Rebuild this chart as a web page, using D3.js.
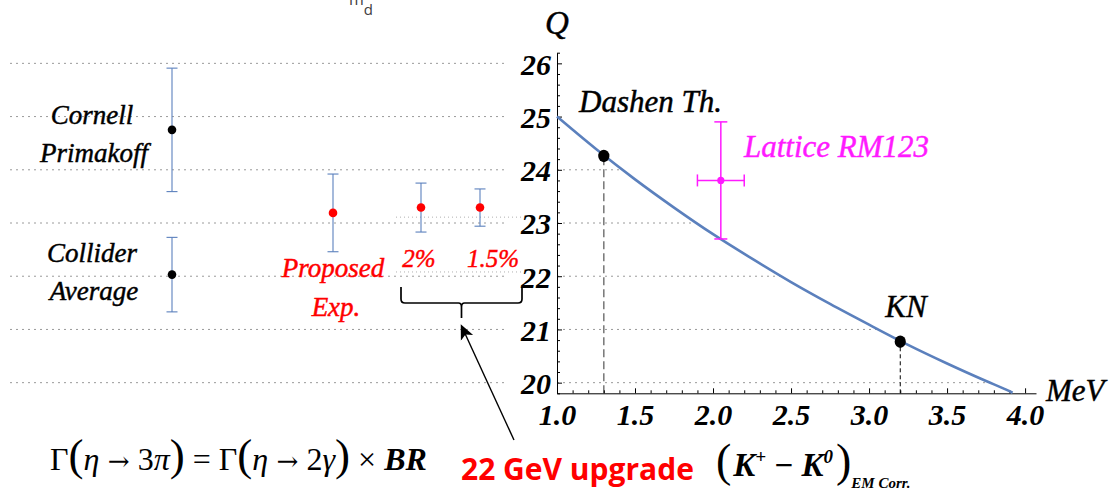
<!DOCTYPE html>
<html><head><meta charset="utf-8">
<script src="https://cdn.jsdelivr.net/npm/d3@7"></script>
<style>
html,body{margin:0;padding:0;background:#fff;}
svg{display:block;}
</style></head><body>
<svg id="chart" width="1116" height="493"></svg>
<script>
// Q as a function of the electromagnetic correction to the kaon mass splitting
const emCorr = [1.0, 1.25, 1.5, 1.75, 2.0, 2.25, 2.5, 2.75, 3.0, 3.25, 3.5, 3.75, 3.9, 3.92];
const qCurve = [25.0, 24.39, 23.82, 23.29, 22.79, 22.33, 21.89, 21.48, 21.09, 20.71, 20.36, 20.03, 19.84, 19.81];

// theory points placed on the curve
const theoryNames = ["Dashen Th.", "KN"];
const theoryEM = [1.3, 3.2];
const theoryQ = [24.26, 20.77];

// lattice determination with errors in both directions
const latticeName = "Lattice RM123";
const latticeEM = [2.05];
const latticeEMErr = [0.15];
const latticeQ = [23.8];
const latticeQErr = [1.1];

// Q from the eta -> 3 pi width: existing results and projected precision
const measColumns = ["current", "proposed", "2%", "1.5%"];
const measColumn = ["current", "current", "proposed", "2%", "1.5%"];
const measKind = ["existing", "existing", "projected", "projected", "projected"];
const measQ = [24.75, 22.03, 23.19, 23.29, 23.29];
const measErr = [1.16, 0.70, 0.73, 0.46, 0.35];

const xTicks = [1.0, 1.5, 2.0, 2.5, 3.0, 3.5, 4.0];
const yTicks = [20, 21, 22, 23, 24, 25, 26];
const insetGridQ = [23.11, 22.08];

const svg = d3.select("#chart");
const SERIF = "'Liberation Serif', 'DejaVu Serif', serif";
const BLUE = "#5b80bd";
const MAGENTA = "#ff1aff";
const RED = "#ff0000";

const x = d3.scaleLinear().domain([1.0, 4.07]).range([557, 1036]);
const y = d3.scaleLinear().domain([19.8, 26.2]).range([393.3, 52.7]);
const colX = d3.scaleOrdinal().domain(measColumns).range([172, 333, 421, 480]);

// ---------- dotted guide lines ----------
svg.append("g").selectAll("line").data(yTicks).join("line")
  .attr("x1", 10).attr("x2", 507)
  .attr("y1", d => y(d)).attr("y2", d => y(d))
  .attr("stroke", "#9a9a9a").attr("stroke-width", 1)
  .attr("stroke-dasharray", "2,4");

svg.append("g").selectAll("line").data(insetGridQ).join("line")
  .attr("x1", colX("2%") - 25).attr("x2", colX("1.5%") + 41)
  .attr("y1", d => y(d)).attr("y2", d => y(d))
  .attr("stroke", "#b0b0b0").attr("stroke-width", 1)
  .attr("stroke-dasharray", "1,3");

// grid inside the Q plot stops at the curve
const curvePts = emCorr.map((e, i) => [e, qCurve[i]]);
const under = d3.area().x(d => x(d[0])).y0(y(19.8)).y1(d => y(d[1])).curve(d3.curveMonotoneX);
svg.append("clipPath").attr("id", "underCurve")
  .append("path").attr("d", under(curvePts));

svg.append("g").attr("clip-path", "url(#underCurve)")
  .selectAll("line").data(yTicks).join("line")
  .attr("x1", x(1.0)).attr("x2", x(4.07))
  .attr("y1", d => y(d)).attr("y2", d => y(d))
  .attr("stroke", "#9a9a9a").attr("stroke-width", 1)
  .attr("stroke-dasharray", "2,4");

// drop lines from the theory points
svg.append("line")
  .attr("x1", x(theoryEM[0])).attr("x2", x(theoryEM[0]))
  .attr("y1", y(19.8)).attr("y2", y(theoryQ[0]))
  .attr("stroke", "#777").attr("stroke-width", 1.5).attr("stroke-dasharray", "8,4");
svg.append("line")
  .attr("x1", x(theoryEM[1])).attr("x2", x(theoryEM[1]))
  .attr("y1", y(19.8)).attr("y2", y(theoryQ[1]))
  .attr("stroke", "#000").attr("stroke-width", 1).attr("stroke-dasharray", "4,3");

// ---------- axes ----------
const tickFont = g => g.selectAll("text")
  .attr("font-family", SERIF).attr("font-size", 30)
  .attr("font-weight", "bold").attr("font-style", "italic").attr("fill", "#000");

const yAxis = svg.append("g").attr("transform", `translate(${x(1.0)},0)`)
  .call(d3.axisLeft(y).tickValues(yTicks).tickSizeInner(-5).tickSizeOuter(0)
    .tickPadding(6).tickFormat(d3.format("d")));
yAxis.call(tickFont);
yAxis.selectAll("text").attr("dy", "0.36em");

const yMinor = d3.range(198, 263, 2).map(v => v / 10).filter(v => !Number.isInteger(v));
svg.append("g").attr("transform", `translate(${x(1.0)},0)`)
  .call(d3.axisLeft(y).tickValues(yMinor).tickSizeInner(-3).tickSizeOuter(0).tickFormat(""))
  .call(g => g.select(".domain").remove());

const xAxis = svg.append("g").attr("transform", `translate(0,${y(19.8)})`)
  .call(d3.axisBottom(x).tickValues(xTicks).tickSizeInner(-5).tickSizeOuter(0)
    .tickPadding(10).tickFormat(d3.format(".1f")));
xAxis.call(tickFont);

const xMinor = d3.range(10, 41, 1).map(v => v / 10).filter(v => Math.round(v * 10) % 5 !== 0);
svg.append("g").attr("transform", `translate(0,${y(19.8)})`)
  .call(d3.axisBottom(x).tickValues(xMinor).tickSizeInner(-3).tickSizeOuter(0).tickFormat(""))
  .call(g => g.select(".domain").remove());

svg.selectAll(".domain, .tick line").attr("stroke", "#000").attr("stroke-width", 1);

// ---------- curve ----------
svg.append("path")
  .attr("d", d3.line().x(d => x(d[0])).y(d => y(d[1])).curve(d3.curveMonotoneX)(curvePts))
  .attr("fill", "none").attr("stroke", BLUE).attr("stroke-width", 2.6);

// theory points
svg.append("g").selectAll("ellipse").data(theoryEM).join("ellipse")
  .attr("cx", d => x(d)).attr("cy", (d, i) => y(theoryQ[i]))
  .attr("rx", 5.6).attr("ry", 6.2).attr("fill", "#000");

// lattice point with error bars
const lat = svg.append("g").attr("stroke", MAGENTA).attr("stroke-width", 1.5);
latticeEM.forEach((e, i) => {
  const cx = x(e), cy = y(latticeQ[i]);
  const yt = y(latticeQ[i] + latticeQErr[i]), yb = y(latticeQ[i] - latticeQErr[i]);
  const xl = x(e - latticeEMErr[i]), xr = x(e + latticeEMErr[i]);
  lat.append("line").attr("x1", cx).attr("x2", cx).attr("y1", yt).attr("y2", yb);
  lat.append("line").attr("x1", cx - 6.5).attr("x2", cx + 6.5).attr("y1", yt).attr("y2", yt);
  lat.append("line").attr("x1", cx - 6.5).attr("x2", cx + 6.5).attr("y1", yb).attr("y2", yb);
  lat.append("line").attr("x1", xl).attr("x2", xr).attr("y1", cy).attr("y2", cy);
  lat.append("line").attr("x1", xl).attr("x2", xl).attr("y1", cy - 6).attr("y2", cy + 6);
  lat.append("line").attr("x1", xr).attr("x2", xr).attr("y1", cy - 6).attr("y2", cy + 6);
  svg.append("circle").attr("cx", cx).attr("cy", cy).attr("r", 3.6).attr("fill", MAGENTA);
});

// ---------- measurements with error bars ----------
const meas = svg.append("g");
measQ.forEach((q, i) => {
  const cx = colX(measColumn[i]);
  const yt = y(q + measErr[i]), yb = y(q - measErr[i]);
  const g = meas.append("g").attr("stroke", BLUE).attr("stroke-width", 1.1);
  g.append("line").attr("x1", cx).attr("x2", cx).attr("y1", yt).attr("y2", yb);
  g.append("line").attr("x1", cx - 5.5).attr("x2", cx + 5.5).attr("y1", yt).attr("y2", yt);
  g.append("line").attr("x1", cx - 5.5).attr("x2", cx + 5.5).attr("y1", yb).attr("y2", yb);
  meas.append("circle").attr("cx", cx).attr("cy", y(q)).attr("r", 4.3)
    .attr("fill", measKind[i] === "existing" ? "#000" : RED);
});

// ---------- text ----------
function label(txt, px, py, opts = {}) {
  const fill = opts.fill || "#000";
  return svg.append("text").attr("x", px).attr("y", py)
    .attr("font-family", opts.family || SERIF)
    .attr("font-size", opts.size || 27)
    .attr("font-style", opts.style || "italic")
    .attr("font-weight", opts.weight || "normal")
    .attr("text-anchor", opts.anchor || "middle")
    .attr("fill", fill)
    .attr("stroke", opts.heavy === false ? "none" : fill)
    .attr("stroke-width", 0.45)
    .text(txt);
}

label("Cornell", 92, 124);
label("Primakoff", 94, 162);
label("Collider", 92, 262);
label("Average", 94, 300);
label("Proposed", 333, 277, {fill: RED});
label("Exp.", 336, 316, {fill: RED});
label("2%", 419, 267, {fill: RED, size: 25});
label("1.5%", 493, 267, {fill: RED, size: 25});

label(theoryNames[0], 579, 112, {anchor: "start", size: 31});
label(theoryNames[1], 906, 317, {size: 31});
label(latticeName, 744, 157, {anchor: "start", size: 31, fill: MAGENTA});
label("Q", 557, 34, {size: 33});
label("MeV", 1046, 401, {anchor: "start", size: 31});

// truncated heading at the top edge
const md = svg.append("text").attr("x", 349).attr("y", 5)
  .attr("font-family", "'Open Sans', sans-serif").attr("fill", "#404040").attr("font-size", 16);
md.append("tspan").text("m");
md.append("tspan").attr("dy", 10).attr("font-size", 15).text("d");

// brace grouping the projected precisions
const bL = colX("2%") - 20, bR = colX("1.5%") + 42, bM = (bL + bR) / 2;
svg.append("path")
  .attr("d", `M${bL},287 L${bL},299 Q${bL},303 ${bL + 4},303 L${bM - 3},303 Q${bM},303 ${bM},307 L${bM},318 M${bM},307 Q${bM},303 ${bM + 3},303 L${bR - 4},303 Q${bR},303 ${bR},299 L${bR},287`)
  .attr("fill", "none").attr("stroke", "#000").attr("stroke-width", 1.7);

// arrow up to the brace
svg.append("defs").append("marker").attr("id", "head")
  .attr("viewBox", "0 0 10 10").attr("refX", 8).attr("refY", 5)
  .attr("markerWidth", 15).attr("markerHeight", 15).attr("orient", "auto")
  .attr("markerUnits", "userSpaceOnUse")
  .append("path").attr("d", "M0,0.5 L10,5 L0,9.5 L2.5,5 Z").attr("fill", "#000");
svg.append("line").attr("x1", 514).attr("y1", 440).attr("x2", 462).attr("y2", 327)
  .attr("stroke", "#000").attr("stroke-width", 1.4).attr("marker-end", "url(#head)");

// width formula
const f = svg.append("text").attr("x", 50).attr("y", 470)
  .attr("font-family", SERIF).attr("font-size", 32).attr("fill", "#000");
const paren = (t) => f.append("tspan").attr("font-size", 45).text(t);
f.append("tspan").text("Γ");
paren("(");
f.append("tspan").attr("font-style", "italic").text("η");
f.append("tspan").attr("font-family", "'DejaVu Serif', serif").attr("font-size", 26).text(" → ");
f.append("tspan").text("3");
f.append("tspan").attr("font-style", "italic").text("π");
paren(")");
f.append("tspan").text(" = Γ");
paren("(");
f.append("tspan").attr("font-style", "italic").text("η");
f.append("tspan").attr("font-family", "'DejaVu Serif', serif").attr("font-size", 26).text(" → ");
f.append("tspan").text("2");
f.append("tspan").attr("font-style", "italic").text("γ");
paren(")");
f.append("tspan").text(" × ");
f.append("tspan").attr("font-style", "italic").attr("font-weight", "bold").text("BR");

label("22 GeV upgrade", 461, 480, {anchor: "start", family: "'Open Sans', sans-serif",
  style: "normal", weight: "bold", size: 30, fill: RED, heavy: false});

// kaon mass splitting axis title
const k = svg.append("text").attr("x", 716).attr("y", 476)
  .attr("font-family", SERIF).attr("font-size", 33).attr("fill", "#000")
  .attr("font-weight", "bold").attr("font-style", "italic");
k.append("tspan").attr("font-size", 46).attr("font-weight", "normal").attr("font-style", "normal").text("(");
k.append("tspan").attr("dx", 2).text("K");
k.append("tspan").attr("font-size", 19).attr("dy", -13).text("+");
k.append("tspan").attr("dy", 13).attr("font-style", "normal").text(" − ");
k.append("tspan").text("K");
k.append("tspan").attr("font-size", 19).attr("dy", -13).text("0");
k.append("tspan").attr("dy", 13).attr("dx", 3).attr("font-size", 46).attr("font-weight", "normal").attr("font-style", "normal").text(")");
k.append("tspan").attr("font-size", 15).attr("dy", 12).text("EM Corr.");
</script>
</body></html>
